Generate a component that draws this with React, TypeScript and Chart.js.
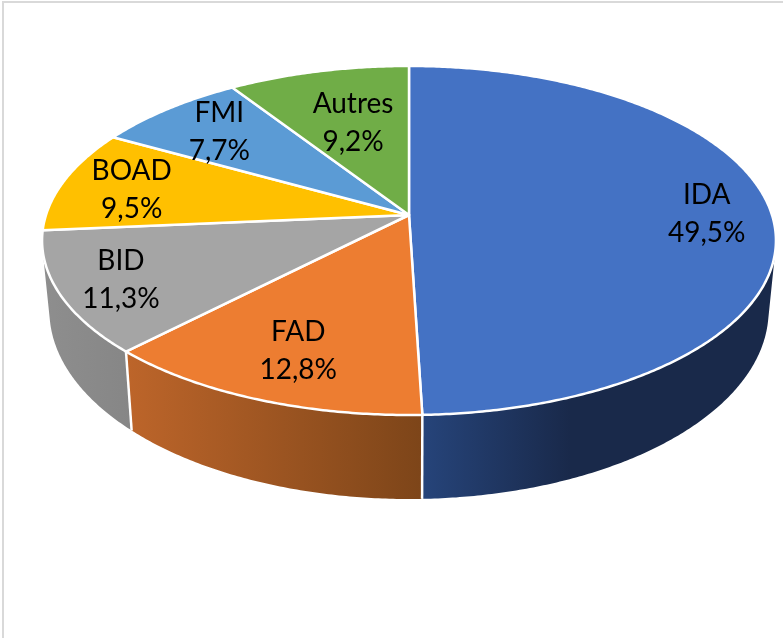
import React, { useEffect, useRef } from "react";
import { Chart, registerables } from "chart.js";

Chart.register(...registerables);

const categories = ["IDA", "FAD", "BID", "BOAD", "FMI", "Autres"];
const shares = [49.5, 12.8, 11.3, 9.5, 7.7, 9.2];
const topColors = ["#4472C4", "#ED7D31", "#A5A5A5", "#FFC000", "#5B9BD5", "#70AD47"];
const wallLeft = ["#26447A", "#BD652A", "#8E8E8E", "#997300", "#2E75B6", "#548235"];
const wallRight = ["#19294A", "#7D4519", "#868686", "#997300", "#2E75B6", "#548235"];
// Fraction of each wall's width over which its gradient reaches the dark end.
const wallGradientEnd = [0.42, 1, 1, 1, 1, 1];

// Label placement relative to each slice's mid-angle anchor.
const labelNudge = [[44, 1], [-9, 13], [-48, 11], [-34, -1], [-16, -7], [10, 12]];

// Perspective view of the pie disc.
const VIEW = {
  cx: 409, cy: 215, a: 363, b: 170.8, k: 0.146,
  wallScaleX: 0.98, wallScaleY: 1.08, wallDrop: 68,
};

const project = (angle: number, r = 1) => {
  const X = r * Math.cos(angle);
  const Y = r * Math.sin(angle);
  const w = 1 - VIEW.k * Y;
  return { x: VIEW.cx + (VIEW.a * X) / w, y: VIEW.cy + (VIEW.b * Y) / w };
};
const lower = (p: { x: number; y: number }) => ({
  x: VIEW.cx + (p.x - VIEW.cx) * VIEW.wallScaleX,
  y: VIEW.cy + (p.y - VIEW.cy) * VIEW.wallScaleY + VIEW.wallDrop,
});
const facesViewer = (a0: number, a1: number) => {
  const p0 = project(a0), p1 = project(a1);
  const q0 = lower(p0), q1 = lower(p1);
  const pts = [p0, p1, q1, q0];
  let s = 0;
  pts.forEach((p, i) => {
    const n = pts[(i + 1) % 4];
    s += p.x * n.y - n.x * p.y;
  });
  return s < 0;
};

const pie3d = {
  id: "pie3d",
  beforeDraw(chart: any) {
    const { ctx, width, height } = chart;
    ctx.save();
    ctx.fillStyle = "#FFFFFF";
    ctx.fillRect(0, 0, width, height);
    ctx.fillStyle = "#D9D9D9";
    ctx.fillRect(2, 1, width - 2, 2);
    ctx.fillRect(2, 1, 2, height - 1);
    ctx.restore();
  },
  beforeDatasetsDraw(chart: any) {
    const { ctx } = chart;
    const arcs = chart.getDatasetMeta(0).data;
    const STEP = Math.PI / 360;
    ctx.save();

    // Side walls
    arcs.forEach((arc: any, i: number) => {
      const angles: number[] = [];
      for (let a = arc.startAngle; a < arc.endAngle; a += STEP) {
        const next = Math.min(a + STEP, arc.endAngle);
        if (facesViewer(a, next)) {
          if (!angles.length) angles.push(a);
          angles.push(next);
        }
      }
      if (angles.length < 2) return;
      const top = angles.map((a) => project(a));
      const bottom = top.map(lower);
      const xs = top.concat(bottom).map((p) => p.x);
      const g = ctx.createLinearGradient(Math.min(...xs), 0, Math.max(...xs), 0);
      g.addColorStop(0, wallLeft[i]);
      g.addColorStop(wallGradientEnd[i], wallRight[i]);
      ctx.beginPath();
      top.forEach((p, n) => (n ? ctx.lineTo(p.x, p.y) : ctx.moveTo(p.x, p.y)));
      bottom.reverse().forEach((p) => ctx.lineTo(p.x, p.y));
      ctx.closePath();
      ctx.fillStyle = g;
      ctx.fill();
    });

    // White seams between neighbouring walls
    ctx.strokeStyle = "#FFFFFF";
    ctx.lineWidth = 2.5;
    arcs.forEach((arc: any) => {
      const a = arc.endAngle;
      if (facesViewer(a - STEP, a) && facesViewer(a, a + STEP)) {
        const p = project(a);
        const q = lower(p);
        ctx.beginPath();
        ctx.moveTo(p.x, p.y);
        ctx.lineTo(q.x, q.y);
        ctx.stroke();
      }
    });

    // Top faces
    arcs.forEach((arc: any, i: number) => {
      ctx.beginPath();
      ctx.moveTo(VIEW.cx, VIEW.cy);
      for (let a = arc.startAngle; a < arc.endAngle; a += STEP) {
        const p = project(a);
        ctx.lineTo(p.x, p.y);
      }
      const e = project(arc.endAngle);
      ctx.lineTo(e.x, e.y);
      ctx.closePath();
      ctx.fillStyle = topColors[i];
      ctx.fill();
      ctx.lineJoin = "round";
      ctx.strokeStyle = "#FFFFFF";
      ctx.lineWidth = 2.5;
      ctx.stroke();
    });

    // Labels
    ctx.fillStyle = "#000000";
    ctx.font = "28px Lato";
    ctx.textAlign = "center";
    ctx.textBaseline = "middle";
    arcs.forEach((arc: any, i: number) => {
      const anchor = project((arc.startAngle + arc.endAngle) / 2, 0.7);
      const x = anchor.x + labelNudge[i][0];
      const y = anchor.y + labelNudge[i][1];
      ctx.fillText(categories[i], x, y - 19);
      ctx.fillText(shares[i].toFixed(1).replace(".", ",") + "%", x, y + 19);
    });
    ctx.restore();
    return false;
  },
};

export default function App() {
  const ref = useRef<HTMLCanvasElement>(null);
  useEffect(() => {
    document.body.style.margin = "0";
    const chart = new Chart(ref.current as HTMLCanvasElement, {
      type: "pie",
      data: {
        labels: categories,
        datasets: [{ data: shares, backgroundColor: topColors }],
      },
      options: {
        animation: false,
        responsive: false,
        plugins: { legend: { display: false }, tooltip: { enabled: false } },
      },
      plugins: [pie3d],
    } as any);
    return () => chart.destroy();
  }, []);
  return <canvas ref={ref} width={783} height={638} style={{ display: "block" }} />;
}
